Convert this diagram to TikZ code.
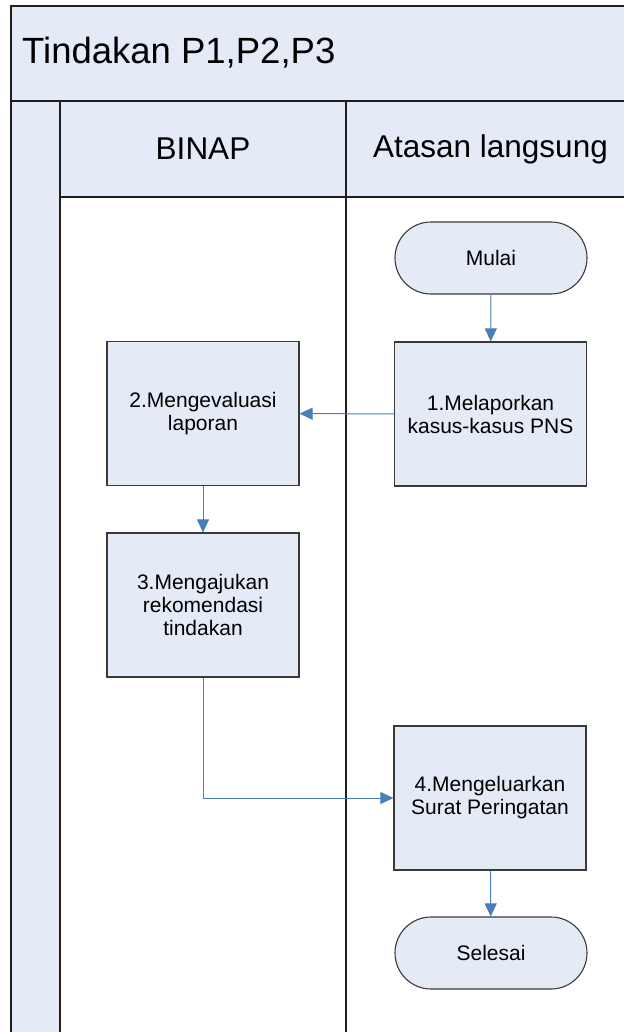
\documentclass[tikz,border=0pt]{standalone}
\usepackage{fontspec}
\setmainfont{Liberation Sans}
\usetikzlibrary{arrows.meta}
\definecolor{lanefill}{HTML}{E5EBF6}
\definecolor{framecol}{HTML}{1E1E1E}
\definecolor{boxline}{HTML}{3A3A3A}
\definecolor{flowblue}{HTML}{4A7EBB}
\tikzset{
  lane/.style={draw=framecol, line width=1.5pt, fill=lanefill},
  divider/.style={draw=framecol, line width=1.5pt},
  procbox/.style={draw=boxline, line width=1.1pt, fill=lanefill, minimum width=192pt, minimum height=144pt, inner sep=0pt, align=center, font=\fontsize{21}{23}\selectfont},
  terminal/.style={draw=boxline, line width=1.1pt, fill=lanefill, minimum width=192pt, minimum height=72pt, rounded corners=36pt, inner sep=0pt, align=center, font=\fontsize{21}{23}\selectfont},
  flow/.style={draw=flowblue, line width=1pt, -{Triangle[length=13pt,width=12pt]}},
  titletext/.style={font=\fontsize{36.5}{40}\selectfont, anchor=west, inner sep=0pt},
  headtext/.style={font=\fontsize{31.5}{36}\selectfont, inner sep=0pt}
}
\begin{document}
\begin{tikzpicture}[x=1pt,y=-1pt]
\useasboundingbox (0,0) rectangle (623,1032);
% pool frame: title band, lane header row, left strip
\path[lane] (11,6) rectangle (645,101);
\path[lane] (11,101) rectangle (60,1045);
\path[lane] (60,101) rectangle (645,197);
\path[divider] (346,101) -- (346,1045);
\node[titletext] (title) at (22,53) {Tindakan P1,P2,P3};
\node[headtext] (laneA) at (203,149) {BINAP};
\node[headtext] (laneB) at (490.5,149) {Atasan langsung};
% flow steps
\node[terminal] (start) at (491,258) {Mulai};
\node[procbox] (s1) at (490.5,414) {1.Melaporkan\\kasus-kasus PNS};
\node[procbox] (s2) at (203,413.5) {2.Mengevaluasi\\laporan};
\node[procbox] (s3) at (203,605) {3.Mengajukan\\rekomendasi\\tindakan};
\node[procbox] (s4) at (490,798) {4.Mengeluarkan\\Surat Peringatan};
\node[terminal] (stop) at (491,953) {Selesai};
% connectors
\draw[flow] (start) -- (s1);
\draw[flow] (s1) -- (s2);
\draw[flow] (s2) -- (s3);
\draw[flow] (s3.south) |- (s4.west);
\draw[flow] (s4) -- (stop);
\end{tikzpicture}
\end{document}
